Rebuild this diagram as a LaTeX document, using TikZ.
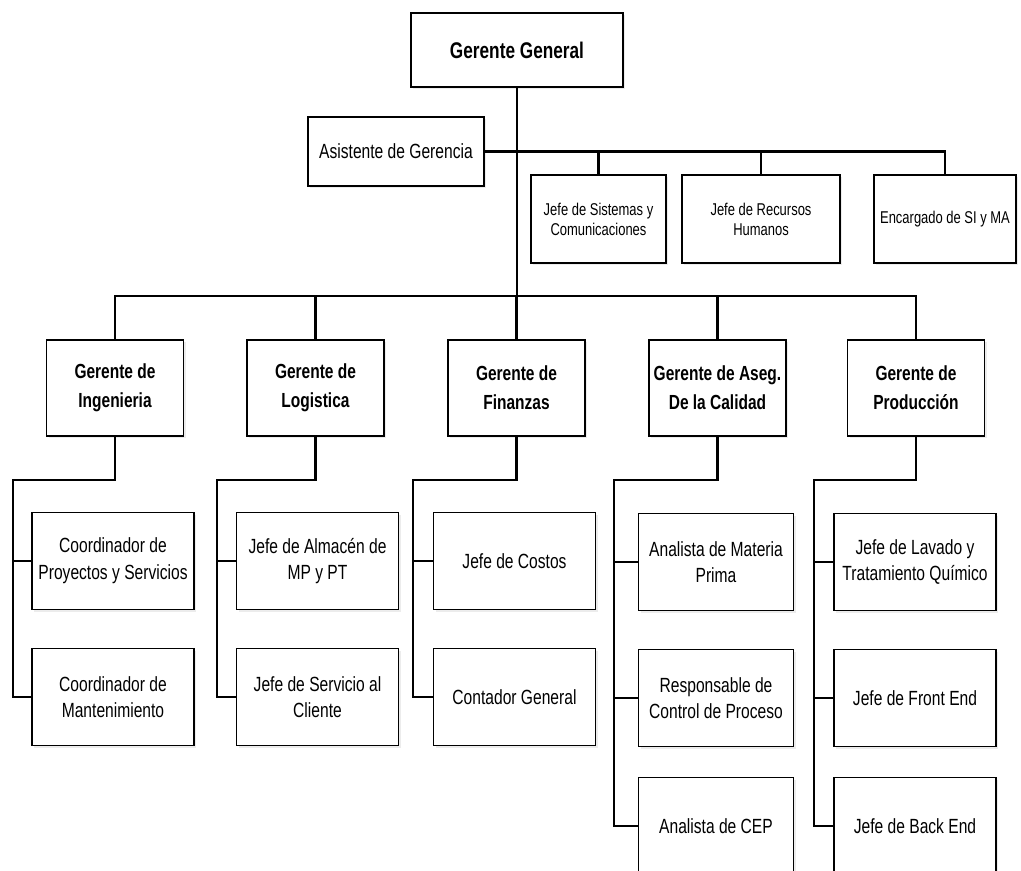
\documentclass[tikz,border=0pt]{standalone}
\usepackage{fontspec}
\newfontfamily\orgfont{Liberation Sans}[FakeStretch=0.76]
\usetikzlibrary{shadows}

\begin{document}
\begin{tikzpicture}[
  x=0.75pt, y=-0.75pt,
  box/.style={rectangle, draw=black, line width=1.3pt, fill=white, align=center, inner sep=2pt,
              drop shadow={shadow xshift=1.6pt, shadow yshift=-1.6pt, opacity=0.15},
              font=\orgfont\fontsize{15.4}{20}\selectfont},
  topbox/.style={box, minimum width=159pt, minimum height=55.5pt,
                 font=\orgfont\bfseries\fontsize{17}{21}\selectfont},
  staffbox/.style={box, minimum height=66pt, font=\orgfont\fontsize{12.8}{15}\selectfont},
  mbox/.style={box, minimum width=102.75pt, minimum height=72pt,
               font=\orgfont\bfseries\fontsize{15.3}{22}\selectfont},
  cbox/.style={box, minimum width=121.5pt, minimum height=72.75pt},
  line/.style={line width=1.8pt, line cap=rect}
]
\useasboundingbox (0,0) rectangle (1021,871);

% --- Direccion ---
\node[topbox] (gg) at (517,50) {Gerente General};
\node[box, minimum width=132pt, minimum height=51.75pt] (asis) at (396,151.5) {Asistente de Gerencia};
\node[staffbox, minimum width=101.25pt] (sist) at (598.5,219) {Jefe de Sistemas y\\Comunicaciones};
\node[staffbox, minimum width=118.5pt] (rrhh) at (761,219) {Jefe de Recursos\\Humanos};
\node[staffbox, minimum width=106.5pt] (sima) at (945,219) {Encargado de SI y MA};

% --- Gerencias ---
\node[mbox] (ging)  at (115,388)   {Gerente de\\Ingenieria};
\node[mbox] (glog)  at (315.5,388) {Gerente de\\Logistica};
\node[mbox] (gfin)  at (516.5,388) {Gerente de\\Finanzas};
\node[mbox] (gcal)  at (717.5,388) {Gerente de Aseg.\\De la Calidad};
\node[mbox] (gprod) at (916,388)   {Gerente de\\Producción};

% --- Jefaturas ---
\node[cbox] (coproy) at (113,561)   {Coordinador de\\Proyectos y Servicios};
\node[cbox] (comant) at (113,697)   {Coordinador de\\Mantenimiento};
\node[cbox] (jalm)   at (317.5,561) {Jefe de Almacén de\\MP y PT};
\node[cbox] (jserv)  at (317.5,697) {Jefe de Servicio al\\Cliente};
\node[cbox] (jcost)  at (514.5,561) {Jefe de Costos};
\node[cbox] (cont)   at (514.5,697) {Contador General};
\node[cbox, minimum width=116.25pt] (amat)  at (716,562) {Analista de Materia\\Prima};
\node[cbox, minimum width=116.25pt] (rproc) at (716,698) {Responsable de\\Control de Proceso};
\node[cbox, minimum width=116.25pt] (acep)  at (716,826) {Analista de CEP};
\node[cbox] (jlav)   at (915,562) {Jefe de Lavado y\\Tratamiento Químico};
\node[cbox] (jfront) at (915,698) {Jefe de Front End};
\node[cbox] (jback)  at (915,826) {Jefe de Back End};

% --- Lineas de mando ---
\coordinate (hub) at (517,296);
\draw[line] (gg.south) -- (hub);
\draw[line] (asis.east) -- (asis.east -| sima.north) -- (sima.north);
\draw[line] (sist.north |- asis.east) -- (sist.north);
\draw[line] (rrhh.north |- asis.east) -- (rrhh.north);

\draw[line] (ging.north) -- (ging.north |- hub) -- (gprod.north |- hub) -- (gprod.north);
\foreach \g in {glog, gfin, gcal}
  \draw[line] (\g.north |- hub) -- (\g.north);

\coordinate (ting)  at (13,480);
\coordinate (tlog)  at (217,480);
\coordinate (tfin)  at (413,480);
\coordinate (tcal)  at (614,480);
\coordinate (tprod) at (814,480);

\draw[line] (ging.south) |- (ting) |- (comant.west);
\draw[line] (ting |- coproy.west) -- (coproy.west);
\draw[line] (glog.south) |- (tlog) |- (jserv.west);
\draw[line] (tlog |- jalm.west) -- (jalm.west);
\draw[line] (gfin.south) |- (tfin) |- (cont.west);
\draw[line] (tfin |- jcost.west) -- (jcost.west);
\draw[line] (gcal.south) |- (tcal) |- (acep.west);
\draw[line] (tcal |- amat.west) -- (amat.west);
\draw[line] (tcal |- rproc.west) -- (rproc.west);
\draw[line] (gprod.south) |- (tprod) |- (jback.west);
\draw[line] (tprod |- jlav.west) -- (jlav.west);
\draw[line] (tprod |- jfront.west) -- (jfront.west);

\end{tikzpicture}
\end{document}
